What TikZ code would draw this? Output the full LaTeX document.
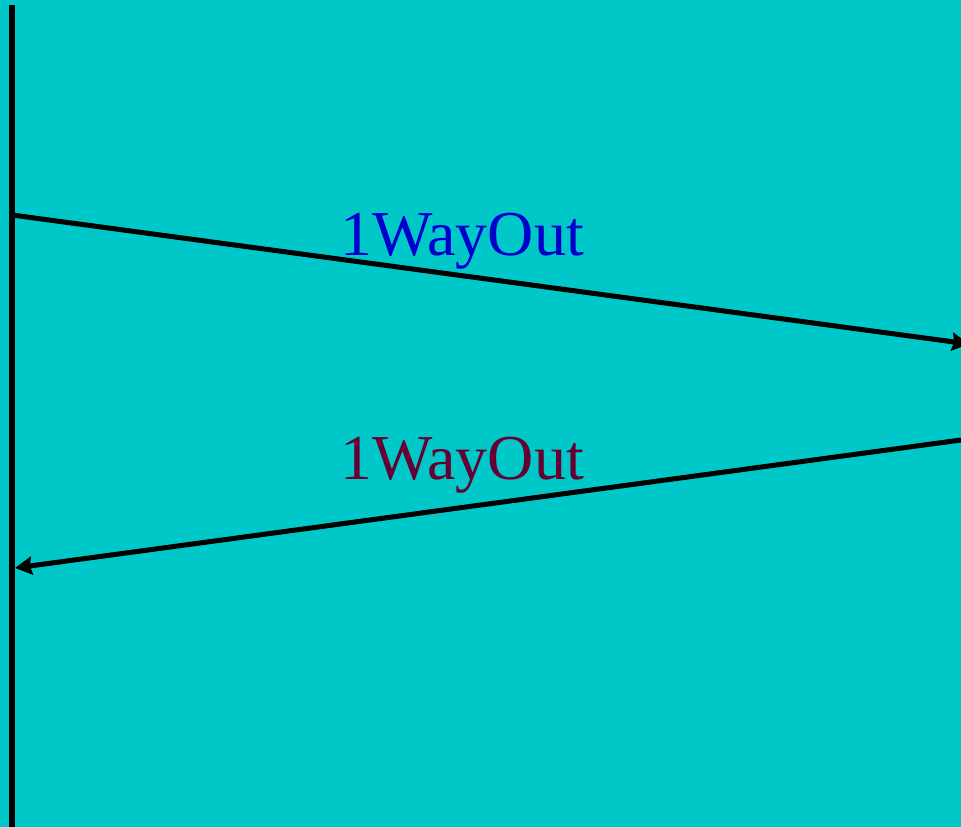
\documentclass[tikz,border=0pt]{standalone}
\usepackage{fontspec}
\setmainfont{Liberation Serif}
\usetikzlibrary{arrows.meta}
\definecolor{bgcyan}{RGB}{0,200,200}
\definecolor{msgblue}{RGB}{0,0,204}
\definecolor{msgred}{RGB}{102,0,51}
\tikzset{
  msg/.style={line width=5pt, -{Stealth[length=17pt,width=18pt,inset=2pt]}},
  msglabel/.style={anchor=base west, inner sep=0pt, font=\fontsize{64}{72}\selectfont}
}
\begin{document}
\begin{tikzpicture}[x=1pt,y=-1pt]
\fill[bgcyan] (0,0) rectangle (961,827);
\useasboundingbox (0,0) rectangle (961,827);
\coordinate (top) at (12,5);
\coordinate (bottom) at (12,827);
\coordinate (sendA) at (12,215);
\coordinate (recvA) at (969,344);
\coordinate (sendB) at (961,440);
\coordinate (recvB) at (15,568);
\draw[line width=6pt] (top) -- (bottom);
\draw[msg] (sendA) -- (recvA);
\draw[msg] (sendB) -- (recvB);
\node[msglabel, text=msgblue] (labelA) at (340,255) {1WayOut};
\node[msglabel, text=msgred] (labelB) at (340,479) {1WayOut};
\end{tikzpicture}
\end{document}
